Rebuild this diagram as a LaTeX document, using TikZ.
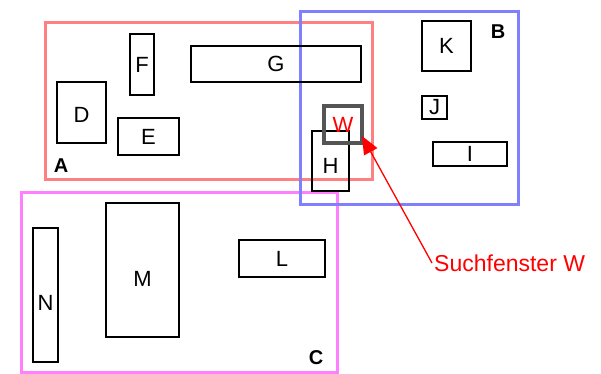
\documentclass[tikz,border=0pt]{standalone}
\usepackage{fontspec}
\setmainfont{Liberation Sans}
\usetikzlibrary{arrows.meta}
\definecolor{frameRed}{HTML}{FF8080}
\definecolor{frameBlue}{HTML}{8080FF}
\definecolor{frameMag}{HTML}{FF80FF}
\definecolor{winGray}{HTML}{555555}
\begin{document}
\begin{tikzpicture}[x=1pt,y=-1pt,
  frame/.style={draw, line width=3pt, inner sep=0pt, outer sep=0pt},
  box/.style={draw=black, line width=1.3pt, inner sep=0pt, outer sep=0pt,
    font=\fontsize{22}{26}\selectfont},
  boxtext/.style={inner sep=0pt, font=\fontsize{22}{26}\selectfont},
  flabel/.style={font=\fontsize{20}{24}\selectfont\bfseries, inner sep=0pt},
  win/.style={draw=winGray, line width=3.5pt, inner sep=0pt, outer sep=0pt,
    text=red, font=\fontsize{22}{26}\selectfont}]
\useasboundingbox (0,0) rectangle (601,373);
% frames
\node[frame, draw=frameRed, minimum width=327pt, minimum height=157pt] (fA) at (208.5,100.5) {};
\node[frame, draw=frameMag, minimum width=316pt, minimum height=180pt] (fC) at (179,282) {};
\node[frame, draw=frameBlue, minimum width=218pt, minimum height=193pt] (fB) at (409,107.5) {};
\node[flabel] (lA) at (61,166) {A};
\node[flabel] (lB) at (498,32) {B};
\node[flabel] (lC) at (316,358) {C};
% boxes
\node[box, minimum width=49pt, minimum height=61pt] (D) at (81.5,112.5) {};
\node[boxtext] (tD) at (81.5,115) {D};
\node[box, minimum width=61pt, minimum height=37pt] (E) at (148.5,136.5) {E};
\node[box, minimum width=24pt, minimum height=61pt] (F) at (142,64.5) {F};
\node[box, minimum width=170pt, minimum height=36pt] (G) at (276,64) {G};
\node[box, minimum width=37pt, minimum height=60pt] (H) at (330.5,161) {};
\node[boxtext] (tH) at (330.5,166) {H};
\node[box, minimum width=74pt, minimum height=24pt] (I) at (470,154) {I};
\node[box, minimum width=25pt, minimum height=23pt] (J) at (434.5,107.5) {J};
\node[box, minimum width=49pt, minimum height=50pt] (K) at (446.5,46) {K};
\node[box, minimum width=86pt, minimum height=37pt] (L) at (282,258.5) {L};
\node[box, minimum width=73pt, minimum height=134pt] (M) at (142.5,270) {};
\node[boxtext] (tM) at (142.5,279) {M};
\node[box, minimum width=25pt, minimum height=134pt] (N) at (45.5,295) {};
\node[boxtext] (tN) at (45.5,303) {N};
% search window
\node[win, minimum width=38pt, minimum height=37pt] (W) at (343,124.5) {W};
% annotation
\node[anchor=west, text=red, font=\fontsize{23}{27}\selectfont, inner sep=2pt] (S) at (432,263) {Suchfenster W};
\draw[red, line width=1.3pt, -{Triangle[length=18pt,width=15pt]}] (S.west) -- ([yshift=7pt]W.south east);
\end{tikzpicture}
\end{document}
